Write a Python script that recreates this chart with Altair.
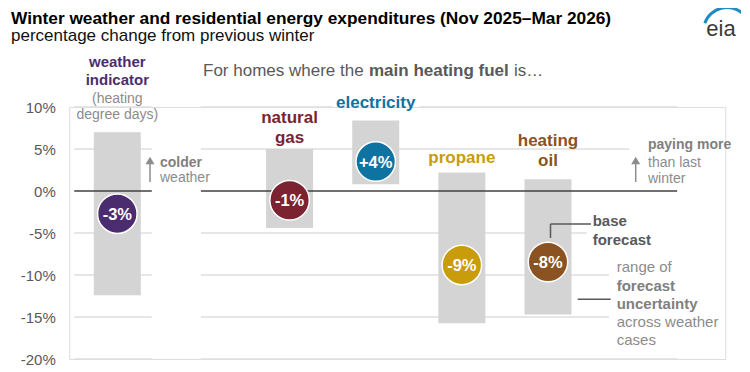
import altair as alt
import pandas as pd

# ---------------- data ----------------
categories = ["weather indicator", "natural gas", "electricity", "propane", "heating oil"]
slots = [0, 2, 3, 4, 5]
range_low = [-12.4, -4.4, 0.8, -15.75, -14.7]
range_high = [7.0, 5.0, 8.4, 2.2, 1.4]
base_forecast = [-2.7, -1.1, 3.5, -8.8, -8.45]
base_labels = ["-3%", "-1%", "+4%", "-9%", "-8%"]
cat_colors = ["#4b2d6f", "#7b2331", "#0f73a1", "#c89c0a", "#8b5321"]
y_ticks = [10, 5, 0, -5, -10, -15, -20]

FONT = "Liberation Sans"
W, H = 656, 252
LEFT, TOP = 69.25, 107  # page position of the plot origin


def px(x):
    return x - LEFT


def py(y):
    return y - TOP


df = pd.DataFrame({
    "cat": categories, "slot": slots, "low": range_low, "high": range_high,
    "base": base_forecast, "label": base_labels,
})

xscale = alt.Scale(domain=[-0.5, 7.0])
yscale = alt.Scale(domain=[-20, 10], nice=False)
yaxis = alt.Axis(values=y_ticks, labelExpr="datum.value + '%'", title=None, grid=False,
                 ticks=False, domain=False, labelFont=FONT, labelFontSize=15,
                 labelColor="#595959", labelPadding=14)
color = alt.Color("cat:N", scale=alt.Scale(domain=categories, range=cat_colors), legend=None)

X = alt.X("slot:Q", scale=xscale, axis=None)

# grid segments (slot units): left panel and right panel, with gaps around text
grid_rows = []
for v in [10, 5, -5, -10, -15, -20]:
    grid_rows.append({"y": v, "a": -0.5, "b": 0.4})
right_ends = {10: [(0.97, 2.5), (3.51, 6.5)], 5: [(0.97, 5.94)], -5: [(0.97, 5.45)],
              -10: [(0.97, 5.71)], -15: [(0.97, 5.71)], -20: [(0.97, 6.5)]}
for v, segs in right_ends.items():
    for a, b in segs:
        grid_rows.append({"y": v, "a": a, "b": b})
grid_df = pd.DataFrame(grid_rows)
zero_df = pd.DataFrame({"y": [0, 0], "a": [-0.5, 0.97], "b": [0.4, 6.5]})

grid = alt.Chart(grid_df).mark_rule(color="#dedede", strokeWidth=1.5).encode(
    x=alt.X("a:Q", scale=xscale, axis=None), x2="b:Q",
    y=alt.Y("y:Q", scale=yscale, axis=yaxis))

bars = alt.Chart(df).mark_bar(size=47, color="#d4d4d4").encode(
    x=X, y=alt.Y("low:Q", scale=yscale, axis=yaxis), y2="high:Q")

zero = alt.Chart(zero_df).mark_rule(color="#404040", strokeWidth=1.6).encode(
    x=alt.X("a:Q", scale=xscale, axis=None), x2="b:Q",
    y=alt.Y("y:Q", scale=yscale, axis=yaxis))

circles = alt.Chart(df).mark_circle(size=1560, opacity=1, stroke="white", strokeWidth=1.5).encode(
    x=X, y=alt.Y("base:Q", scale=yscale, axis=yaxis), color=color)

circle_text = alt.Chart(df).mark_text(font=FONT, fontSize=16.5, fontWeight="bold", color="white",
                                      baseline="middle", dy=1).encode(
    x=X, y=alt.Y("base:Q", scale=yscale, axis=yaxis), text="label:N")


def note(text, x, y, size, weight="normal", color="#8c8c8c", align="left"):
    return alt.Chart(pd.DataFrame({"t": [text]})).mark_text(
        font=FONT, fontSize=size, fontWeight=weight, color=color, align=align,
        baseline="alphabetic").encode(text="t:N", x=alt.value(x), y=alt.value(y))


def cat_note(text, slot, y, size, weight, color):
    return alt.Chart(pd.DataFrame({"t": [text], "slot": [slot]})).mark_text(
        font=FONT, fontSize=size, fontWeight=weight, color=color, align="center",
        baseline="alphabetic").encode(text="t:N", x=X, y=alt.value(y))


layers = [grid, bars, zero, circles, circle_text]

# titles
layers.append(note("Winter weather and residential energy expenditures (Nov 2025\u2013Mar 2026)",
                   px(11), py(23.8), 17.3, "bold", "#000000"))
layers.append(note("percentage change from previous winter", px(11), py(41), 17, "normal", "#111111"))

# eia logo
layers.append(note("eia", px(721), py(36), 22, "normal", "#3a3a3a", "center"))
layers.append(alt.Chart(pd.DataFrame({"t": [1]})).mark_arc(
    theta=5.05, theta2=7.01, radius=25, radius2=22, color="#1e8bc3").encode(
    x=alt.value(px(727)), y=alt.value(py(31))))

# header over the fuel categories
layers.append(note("For homes where the", px(203), py(76), 17, "normal", "#595959"))
layers.append(note("main heating fuel", px(369), py(76), 17, "bold", "#595959"))
layers.append(note("is\u2026", px(514), py(76), 17, "normal", "#595959"))

# category labels
layers.append(cat_note("weather", 0, py(66.5), 15, "bold", cat_colors[0]))
layers.append(cat_note("indicator", 0, py(84.5), 15, "bold", cat_colors[0]))
layers.append(cat_note("(heating", 0, py(102.5), 14, "normal", "#8c8c8c"))
layers.append(cat_note("degree days)", 0, py(118.5), 14, "normal", "#8c8c8c"))
layers.append(cat_note("natural", 2, py(123), 17, "bold", cat_colors[1]))
layers.append(cat_note("gas", 2, py(143), 17, "bold", cat_colors[1]))
layers.append(cat_note("electricity", 3, py(107.5), 17, "bold", cat_colors[2]))
layers.append(cat_note("propane", 4, py(162.5), 17, "bold", cat_colors[3]))
layers.append(cat_note("heating", 5, py(145.5), 17, "bold", cat_colors[4]))
layers.append(cat_note("oil", 5, py(166), 17, "bold", cat_colors[4]))

# arrows
for ax in [150, 635.7]:
    layers.append(alt.Chart(pd.DataFrame({"t": [1]})).mark_rule(color="#8c8c8c", strokeWidth=1.5).encode(
        x=alt.value(px(ax)), y=alt.value(py(182)), y2=alt.value(py(163))))
    layers.append(alt.Chart(pd.DataFrame({"t": [1]})).mark_point(
        shape="triangle-up", filled=True, size=80, color="#8c8c8c", opacity=1).encode(
        x=alt.value(px(ax)), y=alt.value(py(160.5))))

layers.append(note("colder", px(160), py(166.7), 14, "bold", "#7f7f7f"))
layers.append(note("weather", px(160), py(182.3), 14, "normal", "#8c8c8c"))
layers.append(note("paying more", px(648), py(148.6), 14, "bold", "#7f7f7f"))
layers.append(note("than last", px(648), py(166.7), 14, "normal", "#8c8c8c"))
layers.append(note("winter", px(648), py(182.7), 14, "normal", "#8c8c8c"))

# base forecast callout
conn = pd.DataFrame({"t": [1]})
layers.append(alt.Chart(conn).mark_rule(color="#595959", strokeWidth=1.5).encode(
    x=alt.value(px(550.5)), y=alt.value(py(238)), y2=alt.value(py(224))))
layers.append(alt.Chart(conn).mark_rule(color="#595959", strokeWidth=1.5).encode(
    x=alt.value(px(550.5)), x2=alt.value(px(591)), y=alt.value(py(224))))
layers.append(note("base", px(592.7), py(226), 15, "bold", "#595959"))
layers.append(note("forecast", px(592.7), py(245), 15, "bold", "#595959"))

# range callout
layers.append(alt.Chart(conn).mark_rule(color="#595959", strokeWidth=1.5).encode(
    x=alt.value(px(577.7)), x2=alt.value(px(610.7)), y=alt.value(py(299.3))))
range_lines = [("range of", "normal"), ("forecast", "bold"), ("uncertainty", "bold"),
               ("across weather", "normal"), ("cases", "normal")]
for i, (t, wgt) in enumerate(range_lines):
    layers.append(note(t, px(616.7), py(272.3 + 18.2 * i), 15, wgt,
                       "#7f7f7f" if wgt == "bold" else "#8c8c8c"))

chart = alt.layer(*layers).properties(
    width=W, height=H,
    autosize=alt.AutoSizeParams(type="none"),
    padding={"left": LEFT - 8, "top": TOP - 8, "right": 16, "bottom": 10},
).configure_view(stroke=None).configure(background="white")

chart.save("out.html", embed_options={"renderer": "svg", "actions": False})
